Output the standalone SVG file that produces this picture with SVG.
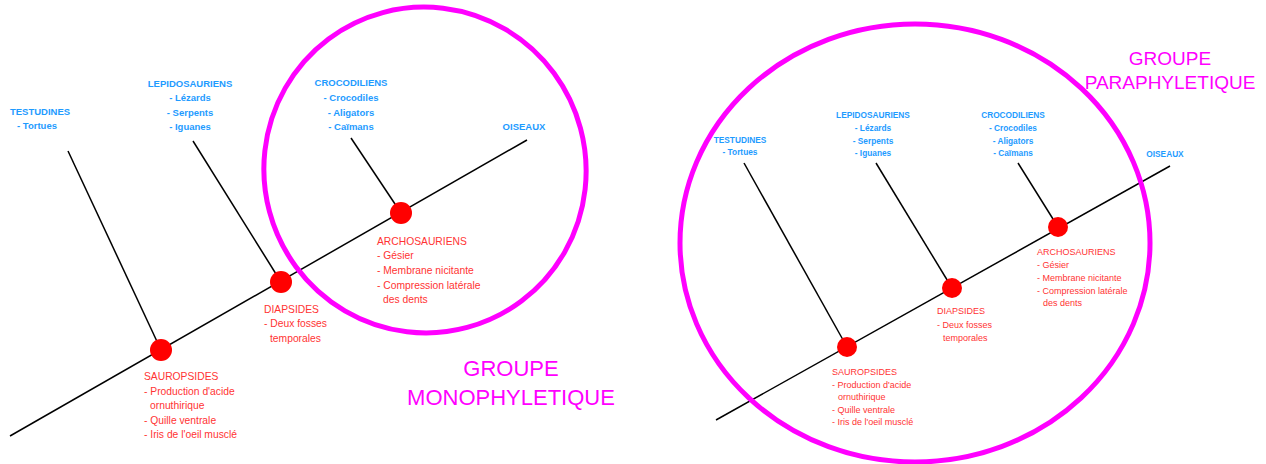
<svg xmlns="http://www.w3.org/2000/svg" width="1266" height="464" viewBox="0 0 1266 464">
<style>
.ln{stroke:#000;stroke-width:1.5;fill:none}
.nd{fill:#ff0000}
.grp{fill:none;stroke:#ff00ff;stroke-width:5}
.bl{font-family:"Liberation Sans",Arial,sans-serif;font-weight:bold;fill:#1e9bff;text-anchor:middle}
.rd{font-family:"Liberation Sans",Arial,sans-serif;fill:#ff3333}
.mg{font-family:"Liberation Sans",Arial,sans-serif;fill:#ff00ff;text-anchor:middle}
.L{font-size:9.5px}
.R{font-size:8.3px}
.rL{font-size:10.3px}
.rR{font-size:9px}
</style>
<rect width="1266" height="464" fill="#fff"/>
<g id="connectors">
<line class="ln" x1="10" y1="436" x2="527" y2="140"/>
<line class="ln" x1="68" y1="151" x2="161" y2="350"/>
<line class="ln" x1="193" y1="141" x2="281" y2="282"/>
<line class="ln" x1="351" y1="138" x2="401" y2="213"/>
<line class="ln" x1="716" y1="420" x2="1170" y2="166"/>
<line class="ln" x1="744" y1="163" x2="847" y2="347"/>
<line class="ln" x1="876" y1="163" x2="952" y2="288"/>
<line class="ln" x1="1018" y1="163" x2="1058" y2="227"/>
</g>
<g id="ellipse-mono"><ellipse class="grp" cx="425" cy="170" rx="161" ry="163" transform="rotate(-15 425 170)"/></g>
<g id="ellipse-para"><ellipse class="grp" cx="915" cy="243" rx="235" ry="219"/></g>
<g id="L-testudines" class="bl L"><text x="40" y="115">TESTUDINES</text><text x="37" y="129">- Tortues</text></g>
<g id="L-lepido" class="bl L"><text x="190" y="87">LEPIDOSAURIENS</text><text x="190" y="101">- Lézards</text><text x="190" y="116">- Serpents</text><text x="190" y="130">- Iguanes</text></g>
<g id="L-croco" class="bl L"><text x="351" y="86">CROCODILIENS</text><text x="351" y="101">- Crocodiles</text><text x="351" y="116">- Aligators</text><text x="351" y="130">- Caïmans</text></g>
<g id="L-oiseaux" class="bl L"><text x="524" y="130">OISEAUX</text></g>
<g id="L-sauro"><circle class="nd" cx="161" cy="350" r="11"/><g class="rd rL"><text x="144" y="380">SAUROPSIDES</text><text x="144" y="395">- Production d'acide</text><text x="150" y="409">ornuthirique</text><text x="144" y="424">- Quille ventrale</text><text x="144" y="438">- Iris de l'oeil musclé</text></g></g>
<g id="L-diap"><circle class="nd" cx="281" cy="282" r="11"/><g class="rd rL"><text x="264" y="313">DIAPSIDES</text><text x="264" y="327">- Deux fosses</text><text x="270" y="342">temporales</text></g></g>
<g id="L-archo"><circle class="nd" cx="401" cy="213" r="11"/><g class="rd rL"><text x="377" y="245">ARCHOSAURIENS</text><text x="377" y="259">- Gésier</text><text x="377" y="274">- Membrane nicitante</text><text x="377" y="289">- Compression latérale</text><text x="383" y="303">des dents</text></g></g>
<g id="L-title" class="mg" font-size="22"><text x="511" y="376">GROUPE</text><text x="511" y="405">MONOPHYLETIQUE</text></g>
<g id="R-testudines" class="bl R"><text x="740" y="143">TESTUDINES</text><text x="740" y="155">- Tortues</text></g>
<g id="R-lepido" class="bl R"><text x="873" y="118">LEPIDOSAURIENS</text><text x="873" y="131">- Lézards</text><text x="873" y="144">- Serpents</text><text x="873" y="156">- Iguanes</text></g>
<g id="R-croco" class="bl R"><text x="1013" y="118">CROCODILIENS</text><text x="1013" y="131">- Crocodiles</text><text x="1013" y="144">- Aligators</text><text x="1013" y="156">- Caïmans</text></g>
<g id="R-oiseaux" class="bl R"><text x="1165" y="157">OISEAUX</text></g>
<g id="R-sauro"><circle class="nd" cx="847" cy="347" r="10"/><g class="rd rR"><text x="832" y="375">SAUROPSIDES</text><text x="832" y="388">- Production d'acide</text><text x="838" y="400">ornuthirique</text><text x="832" y="413">- Quille ventrale</text><text x="832" y="425">- Iris de l'oeil musclé</text></g></g>
<g id="R-diap"><circle class="nd" cx="952" cy="288" r="10"/><g class="rd rR"><text x="937" y="314">DIAPSIDES</text><text x="937" y="328">- Deux fosses</text><text x="943" y="341">temporales</text></g></g>
<g id="R-archo"><circle class="nd" cx="1058" cy="227" r="10"/><g class="rd rR"><text x="1037" y="255">ARCHOSAURIENS</text><text x="1037" y="268">- Gésier</text><text x="1037" y="281">- Membrane nicitante</text><text x="1037" y="294">- Compression latérale</text><text x="1043" y="306">des dents</text></g></g>
<g id="R-title" class="mg" font-size="19"><text x="1170" y="65">GROUPE</text><text x="1170" y="89">PARAPHYLETIQUE</text></g>
</svg>
